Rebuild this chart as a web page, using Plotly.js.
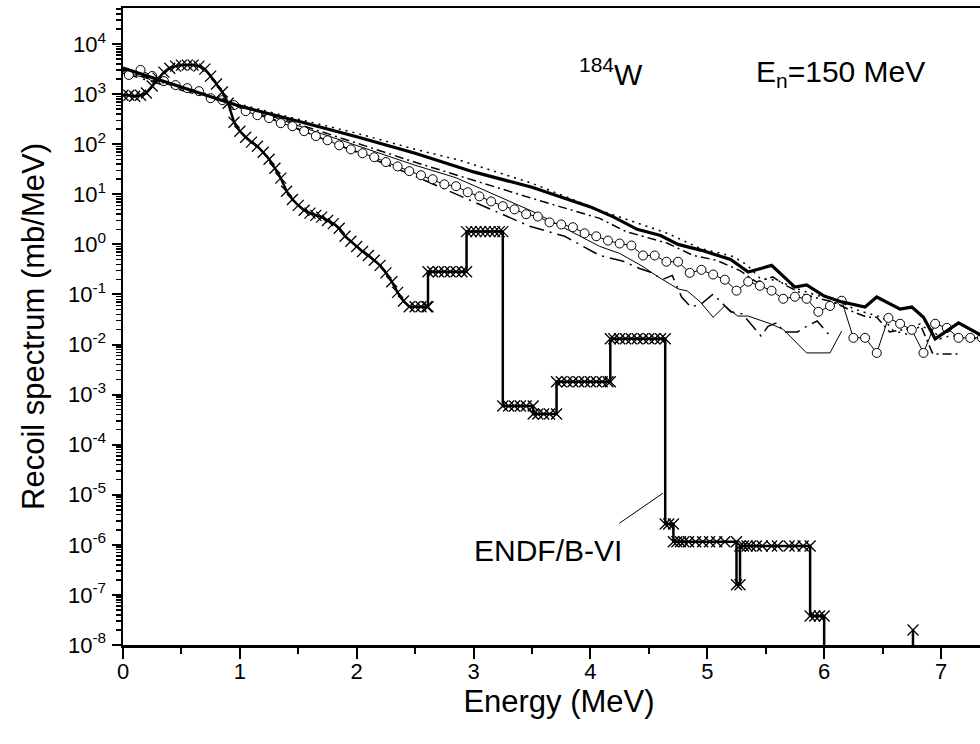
<!DOCTYPE html>
<html>
<head>
<meta charset="utf-8">
<script src="https://cdn.plot.ly/plotly-3.0.1.min.js"></script>
<style>
html,body{margin:0;padding:0;overflow:hidden;background:#fff;width:980px;height:744px;}
#chart{width:1010px;height:744px;}
</style>
</head>
<body>
<div id="chart"></div>
<script>
// ---- Data ----
// Thick solid model
const thickE = [0,0.25,0.5,0.75,1.0,1.5,2.0,2.5,3.0,3.5,4.0,4.2,4.4,4.6,4.75,4.95,5.2,5.35,5.55,5.75,5.85,6.0,6.15,6.35,6.45,6.65,6.75,6.85,6.95,7.15,7.35,7.5];
const thickV = [3311,2138,1380,871,575,288,141,66,28,13.8,5.6,3.5,2.0,1.5,1.0,0.76,0.50,0.28,0.38,0.14,0.155,0.093,0.071,0.056,0.089,0.051,0.056,0.035,0.013,0.027,0.015,0.012];

// Dotted model
const dotE = [0,0.5,1.0,1.5,2.0,2.5,2.88,3.5,4.08,4.36,4.66,4.94,5.22,5.34,5.45,5.6,5.77,5.94,6.08,6.25,6.37,6.5,6.59,6.71,6.82,6.93,6.99,7.08,7.35];
const dotV = [3160,1445,630,316,166,79,48,16.6,4.8,2.9,1.66,0.83,0.575,0.39,0.21,0.19,0.13,0.095,0.083,0.052,0.042,0.035,0.019,0.016,0.023,0.020,0.013,0.015,0.013];

// Dash-dot model
const dashDotE = [0,0.5,1.0,1.51,2.0,2.5,2.8,3.5,4.08,4.3,4.66,4.88,5.08,5.28,5.42,5.56,5.68,5.82,5.97,6.08,6.25,6.37,6.45,6.56,6.71,6.82,6.93,7.15];
const dashDotV = [3020,1320,600,251,105,43.6,26.3,8.3,3.3,1.82,1.05,0.60,0.48,0.30,0.178,0.224,0.148,0.102,0.081,0.071,0.045,0.035,0.035,0.0178,0.0204,0.0257,0.0065,0.0065];

// Thin solid model
const thinE = [0,0.5,1.0,1.51,2.0,2.5,2.85,3.5,4.08,4.25,4.45,4.58,4.75,4.83,4.94,5.05,5.15,5.26,5.35,5.54,5.65,5.85,6.05,6.15];
const thinV = [2820,1320,600,229,95,38,21.4,4.6,0.91,0.66,0.36,0.224,0.129,0.117,0.071,0.035,0.059,0.037,0.037,0.026,0.020,0.0068,0.0068,0.0186];

// Long dash-dot model
const longDashE = [0,0.5,1.0,1.5,2.0,2.5,3.0,3.23,3.48,3.78,4.08,4.28,4.42,4.51,4.62,4.70,4.78,4.86,4.95,5.05,5.12,5.2,5.3,5.41,5.46,5.52,5.6,5.65,5.77,5.85,5.94,6.06];
const longDashV = [2630,1200,575,200,69,23,7.2,4.2,2.3,1.45,0.60,0.46,0.33,0.28,0.20,0.24,0.089,0.056,0.065,0.102,0.071,0.045,0.041,0.020,0.0148,0.023,0.0275,0.0178,0.0178,0.023,0.0295,0.0141];

// Open-circle model (points every 0.1 MeV starting at 0.05)
const circE = [0.05,0.15,0.25,0.35,0.45,0.55,0.65,0.75,0.85,0.95,1.05,1.15,1.25,1.35,1.45,1.55,1.65,1.75,1.85,1.95,2.05,2.15,2.25,2.35,2.45,2.55,2.65,2.75,2.85,2.95,3.05,3.15,3.25,3.35,3.45,3.55,3.65,3.75,3.85,3.95,4.05,4.15,4.25,4.35,4.45,4.55,4.65,4.75,4.85,4.95,5.05,5.15,5.25,5.35,5.45,5.55,5.65,5.75,5.85,5.95,6.05,6.15,6.25,6.35,6.45,6.55,6.65,6.75,6.85,6.95,7.05,7.15,7.25,7.35];
const circV = [2415,3040,2307,1820,1514,1318,1148,832,759,603,457,380,331,263,229,182,145,120,95,79,66,55,44,36,29,24,20,15.8,14.5,11,9.1,7.2,5.8,5.0,4.0,3.6,2.75,2.5,2.2,1.66,1.45,1.19,1.04,0.95,0.60,0.60,0.45,0.45,0.27,0.31,0.25,0.197,0.119,0.18,0.149,0.119,0.082,0.090,0.082,0.045,0.059,0.075,0.0136,0.0136,0.0068,0.034,0.026,0.0196,0.0068,0.026,0.0215,0.0136,0.0136,0.0136];

// ENDF/B-VI evaluation (histogram-like, with crosses)
const endfE = [0,0.05,0.1,0.15,0.2,0.25,0.3,0.35,0.4,0.45,0.5,0.55,0.6,0.65,0.7,0.75,0.8,0.85,0.9,0.95,
  1.0,1.05,1.1,1.15,1.2,1.25,1.3,1.35,1.4,1.45,1.5,1.55,1.6,1.65,1.7,1.75,1.8,1.85,1.9,1.95,
  2.0,2.05,2.1,2.15,2.2,2.25,2.3,2.35,2.4,2.45,2.5,2.55,2.6,2.61,
  2.61,2.65,2.7,2.75,2.8,2.85,2.9,2.94,
  2.94,2.98,3.02,3.06,3.1,3.14,3.18,3.22,3.25,
  3.25,3.3,3.35,3.4,3.45,3.51,
  3.51,3.55,3.6,3.65,3.71,
  3.71,3.75,3.8,3.85,3.9,3.95,4.0,4.05,4.1,4.15,4.17,
  4.17,4.2,4.25,4.3,4.35,4.4,4.45,4.5,4.55,4.6,4.64,
  4.64,4.67,4.71,
  4.71,4.74,4.77,4.8,4.84,4.9,4.96,5.02,5.08,5.15,5.25,
  5.25,5.28,
  5.28,5.31,5.34,5.37,5.42,5.47,5.55,5.6,5.7,5.75,5.82,5.88,
  5.88,5.92,5.96,6.0,
  6.0,6.76,6.76];
const endfV = [950,950,910,950,1050,1450,2090,2750,3300,3630,3800,3800,3800,3630,3160,2290,1590,1100,660,275,
  182,138,110,91,69,50,33,21,11.5,7.9,6.0,4.8,4.2,3.8,3.5,3.0,2.6,2.1,1.45,1.15,
  0.91,0.72,0.60,0.48,0.38,0.27,0.18,0.11,0.074,0.057,0.057,0.057,0.057,0.057,
  0.285,0.285,0.285,0.285,0.285,0.285,0.285,0.285,
  1.8,1.8,1.8,1.8,1.8,1.8,1.8,1.8,1.8,
  5.9e-4,5.9e-4,5.9e-4,5.9e-4,5.9e-4,5.9e-4,
  4.1e-4,4.1e-4,4.1e-4,4.1e-4,4.1e-4,
  1.8e-3,1.8e-3,1.8e-3,1.8e-3,1.8e-3,1.8e-3,1.8e-3,1.8e-3,1.8e-3,1.8e-3,1.8e-3,
  0.013,0.013,0.013,0.013,0.013,0.013,0.013,0.013,0.013,0.013,0.013,
  2.6e-6,2.6e-6,2.6e-6,
  1.15e-6,1.15e-6,1.15e-6,1.15e-6,1.15e-6,1.15e-6,1.15e-6,1.15e-6,1.15e-6,1.15e-6,1.15e-6,
  1.6e-7,1.6e-7,
  9.5e-7,9.5e-7,9.5e-7,9.5e-7,9.5e-7,9.5e-7,9.5e-7,9.5e-7,9.5e-7,9.5e-7,9.5e-7,9.5e-7,
  3.8e-8,3.8e-8,3.8e-8,3.8e-8,
  1e-10,1e-10,2e-8];

// Axis tick labels
const xTicks = [0,1,2,3,4,5,6,7];
const yTickVals = [1e-8,1e-7,1e-6,1e-5,1e-4,1e-3,1e-2,1e-1,1e0,1e1,1e2,1e3,1e4];
const yTickText = ['10<sup>-8</sup>','10<sup>-7</sup>','10<sup>-6</sup>','10<sup>-5</sup>','10<sup>-4</sup>','10<sup>-3</sup>','10<sup>-2</sup>','10<sup>-1</sup>','10<sup>0</sup>','10<sup>1</sup>','10<sup>2</sup>','10<sup>3</sup>','10<sup>4</sup>'];

// all log ticks (decades labelled, 2..9 unlabelled)
const yAllVals = [], yAllText = [];
yTickVals.forEach((d, i) => {
  yAllVals.push(d); yAllText.push(yTickText[i]);
  for (let k = 2; k <= 9; k++) { yAllVals.push(d * k); yAllText.push(''); }
});

const FONT = "Arial, 'Liberation Sans', Helvetica, sans-serif";
const Y_RANGE = [-8, 4.72];

const traces = [
  {x: dotE, y: dotV, mode: 'lines', line: {color: '#000', width: 1.5, dash: '2px,5px'}, hoverinfo: 'skip'},
  {x: dashDotE, y: dashDotV, mode: 'lines', line: {color: '#000', width: 1.5, dash: '9px,4px,2px,4px'}, hoverinfo: 'skip'},
  {x: thinE, y: thinV, mode: 'lines', line: {color: '#000', width: 1}, hoverinfo: 'skip'},
  {x: longDashE, y: longDashV, mode: 'lines', line: {color: '#000', width: 1.5, dash: '15px,6px,2px,6px'}, hoverinfo: 'skip'},
  {x: circE, y: circV, mode: 'lines+markers', line: {color: '#000', width: 1},
   marker: {symbol: 'circle', size: 9, color: '#fff', line: {color: '#000', width: 1}}, hoverinfo: 'skip'},
  {x: thickE, y: thickV, mode: 'lines', line: {color: '#000', width: 3.2}, hoverinfo: 'skip'},
  {x: endfE, y: endfV, mode: 'lines+markers', line: {color: '#000', width: 2.5},
   marker: {symbol: 'x-thin-open', size: 11, color: '#000', line: {color: '#000', width: 1.3}}, hoverinfo: 'skip'},
  // carrier for the major-tick overlay axis (no visible marks)
  {x: [0], y: [1], yaxis: 'y2', mode: 'markers', marker: {opacity: 0, size: 1}, hoverinfo: 'skip'}
];

const layout = {
  width: 1010, height: 744,
  margin: {l: 123, r: 15, t: 8, b: 99},
  paper_bgcolor: '#fff', plot_bgcolor: '#fff',
  showlegend: false,
  font: {family: FONT, color: '#000', size: 22},
  xaxis: {
    range: [0, 7.462], tickvals: xTicks, ticks: 'outside', ticklen: 11, tickwidth: 2, tickcolor: '#000',
    ticklabelstandoff: -6,
    showline: true, linewidth: 2.5, linecolor: '#000', mirror: true,
    showgrid: false, zeroline: false,
    minor: {dtick: 0.5, ticks: 'outside', ticklen: 6, tickwidth: 2, tickcolor: '#000', showgrid: false},
    tickfont: {family: FONT, size: 22},
    title: {text: 'Energy (MeV)', font: {family: FONT, size: 31}, standoff: 2}
  },
  yaxis: {
    type: 'log', range: Y_RANGE, tickmode: 'array', tickvals: yAllVals, ticktext: yAllText,
    ticks: 'outside', ticklen: 5, tickwidth: 1.5, tickcolor: '#000',
    ticklabelstandoff: 5,
    showline: true, linewidth: 2.5, linecolor: '#000', mirror: true,
    showgrid: false, zeroline: false,
    tickfont: {family: FONT, size: 22},
    title: {text: 'Recoil spectrum (mb/MeV)', font: {family: FONT, size: 31}, standoff: 14}
  },
  yaxis2: {
    type: 'log', range: Y_RANGE, overlaying: 'y', side: 'left', anchor: 'x',
    tickmode: 'array', tickvals: yTickVals, showticklabels: false,
    ticks: 'outside', ticklen: 10, tickwidth: 2, tickcolor: '#000',
    showline: false, showgrid: false, zeroline: false
  },
  annotations: [
    {x: 4.18, y: 3.45, xref: 'x', yref: 'y', text: '<sup>184</sup>W', showarrow: false,
     font: {family: FONT, size: 30}},
    {x: 6.14, y: 3.42, xref: 'x', yref: 'y', text: 'E<sub>n</sub>=150 MeV', showarrow: false,
     font: {family: FONT, size: 30}},
    {x: 3.64, y: -6.12, xref: 'x', yref: 'y', text: 'ENDF/B-VI', showarrow: false,
     font: {family: FONT, size: 30}},
    {x: 4.62, y: -4.97, xref: 'x', yref: 'y', text: '', showarrow: true, arrowhead: 0,
     arrowwidth: 1, arrowcolor: '#000', ax: -45, ay: 31, standoff: 0, startstandoff: 0}
  ]
};

Plotly.newPlot('chart', traces, layout, {staticPlot: true, displayModeBar: false});
</script>
</body>
</html>
